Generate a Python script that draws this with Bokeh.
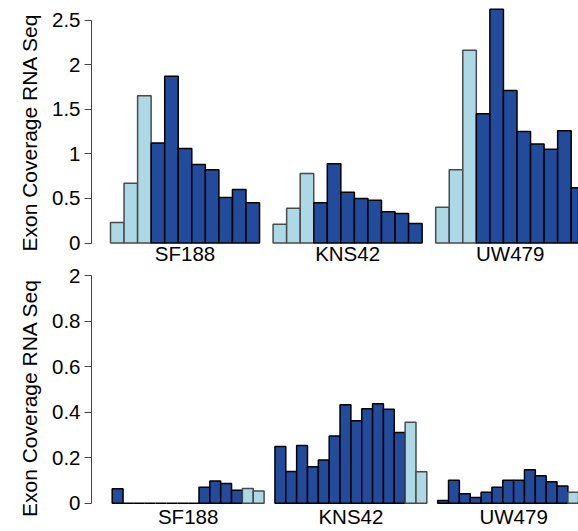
from bokeh.plotting import figure
from bokeh.layouts import column
from bokeh.models import ColumnDataSource, Range1d, FixedTicker
from bokeh.core.properties import value
from bokeh.embed import file_html
from bokeh.resources import INLINE

# ---------------- data ----------------
groups = ["SF188", "KNS42", "UW479"]

top_sf188 = [0.23, 0.67, 1.65, 1.12, 1.87, 1.06, 0.88, 0.82, 0.51, 0.60, 0.45]
top_kns42 = [0.21, 0.39, 0.78, 0.45, 0.89, 0.57, 0.50, 0.48, 0.35, 0.33, 0.22]
top_uw479 = [0.40, 0.82, 2.16, 1.45, 2.62, 1.71, 1.25, 1.11, 1.05, 1.26, 0.62]
top_kind = ["light"] * 3 + ["dark"] * 8

bot_sf188 = [0.063, 0, 0, 0, 0, 0, 0, 0, 0.070, 0.097, 0.086, 0.057, 0.064, 0.054]
bot_kns42 = [0.249, 0.139, 0.253, 0.160, 0.190, 0.295, 0.432, 0.362, 0.415, 0.437, 0.413, 0.311, 0.355, 0.138]
bot_uw479 = [0.012, 0.101, 0.041, 0.025, 0.048, 0.070, 0.101, 0.101, 0.147, 0.120, 0.094, 0.075, 0.048]
bot_kind = ["dark"] * 12 + ["light"] * 2

top_ticks = [0, 0.5, 1, 1.5, 2, 2.5]
top_tick_labels = ["0", "0.5", "1", "1.5", "2", "2.5"]
bot_ticks = [0, 0.2, 0.4, 0.6, 0.8, 1.0]
bot_tick_labels = ["0", "0.2", "0.4", "0.6", "0.8", "2"]

y_label = "Exon Coverage RNA Seq"

DARK = "#224B9B"
LIGHT = "#ADD8E6"
FONT = "Liberation Sans"
FS = "20.5px"


def build_source(series_list, kinds, period):
    xs, tops, fills, lines = [], [], [], []
    for g, vals in enumerate(series_list):
        for i, v in enumerate(vals):
            xs.append(g * period + i + 0.5)
            tops.append(v)
            k = kinds[i]
            fills.append(DARK if k == "dark" else LIGHT)
            lines.append("black" if k == "dark" else "#4a4a4a")
    return ColumnDataSource(dict(x=xs, top=tops, fill=fills, line=lines))


def make_panel(series_list, kinds, period, n_bars, xr, yr, height, ticks, labels, bounds, label_off):
    p = figure(width=578, height=height, x_range=Range1d(*xr), y_range=Range1d(*yr),
               x_axis_location=None, toolbar_location=None, output_backend="svg",
               min_border_left=91, min_border_right=0, min_border_top=0, min_border_bottom=0)
    p.outline_line_color = None
    p.xgrid.visible = False
    p.ygrid.visible = False
    src = build_source(series_list, kinds, period)
    p.vbar(x="x", top="top", bottom=0, width=1, source=src,
           fill_color="fill", line_color="line", line_width=1.5)
    centers = [g * period + n_bars / 2 for g in range(len(groups))]
    p.text(x=centers, y=[0] * len(groups), text=groups, y_offset=label_off,
           text_align="center", text_baseline="top",
           text_font=value(FONT), text_font_size=FS, text_color="black")
    ax = p.yaxis[0]
    ax.bounds = bounds
    ax.ticker = FixedTicker(ticks=ticks)
    ax.major_label_overrides = {t: l for t, l in zip(ticks, labels)}
    ax.minor_tick_line_color = None
    ax.major_tick_out = 7
    ax.major_tick_in = 0
    ax.major_label_standoff = 4
    ax.axis_line_color = "#444444"
    ax.major_tick_line_color = "#444444"
    ax.major_label_text_font = FONT
    ax.major_label_text_font_size = FS
    ax.major_label_text_color = "black"
    ax.axis_label = y_label
    ax.axis_label_text_font = FONT
    ax.axis_label_text_font_size = "21px"
    ax.axis_label_text_font_style = "normal"
    ax.axis_label_text_color = "black"
    ax.axis_label_standoff = 8
    return p


top = make_panel([top_sf188, top_kns42, top_uw479], top_kind, 12, 11,
                 (-1.402, 34.54), (-0.241, 2.719), 264, top_ticks, top_tick_labels, (0, 2.5), -1.5)
bot = make_panel([bot_sf188, bot_kns42, bot_uw479], bot_kind, 15, 14,
                 (-1.908, 42.98), (-0.1243, 1.0483), 267, bot_ticks, bot_tick_labels, (0, 1.0), 1.5)

layout = column(top, bot, spacing=0)
open("out.html", "w").write(file_html(layout, INLINE))
